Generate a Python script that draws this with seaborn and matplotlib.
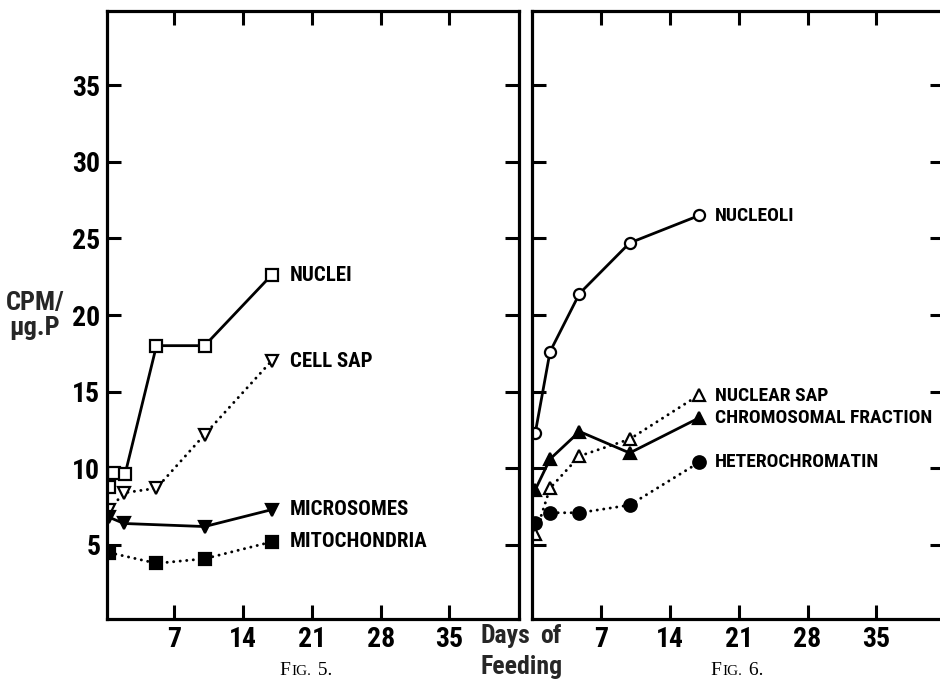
import matplotlib
matplotlib.use("Agg")
import matplotlib.pyplot as plt
from matplotlib import font_manager as fm
from matplotlib.offsetbox import TextArea, HPacker, AnnotationBbox
import seaborn as sns
import pandas as pd

# ---------------- data ----------------
tick_days = [7, 14, 21, 28, 35]
tick_cpm = [5, 10, 15, 20, 25, 30, 35]

# Fig. 5
nuclei_days = [0.4, 0.9, 2.0, 5.2, 10.1, 16.9]
nuclei = [8.8, 9.7, 9.6, 18.0, 18.0, 22.6]
cellsap_days = [0.4, 1.9, 5.2, 10.1, 16.9]
cellsap = [7.3, 8.4, 8.7, 12.2, 17.0]
microsomes_days = [0.4, 1.9, 10.1, 16.9]
microsomes = [6.8, 6.4, 6.2, 7.3]
mito_days = [0.4, 5.2, 10.1, 16.9]
mito = [4.5, 3.8, 4.1, 5.2]

# Fig. 6
nucfrac_days = [0.3, 1.8, 4.8, 9.9, 17.0]
nucleoli = [12.3, 17.6, 21.4, 24.7, 26.5]
nuclearsap = [5.7, 8.7, 10.8, 11.9, 14.8]
chromosomal = [8.6, 10.6, 12.4, 11.0, 13.3]
heterochromatin = [6.4, 7.1, 7.1, 7.6, 10.4]

left_labels = ["NUCLEI", "CELL SAP", "MICROSOMES", "MITOCHONDRIA"]
left_label_y = [22.57, 16.96, 7.33, 5.2]
right_labels = ["NUCLEOLI", "NUCLEAR SAP", "CHROMOSOMAL FRACTION", "HETEROCHROMATIN"]
right_label_y = [26.48, 14.74, 13.3, 10.43]

# ---------------- style ----------------
sns.set_theme(style="ticks")
names = {f.name for f in fm.fontManager.ttflist}
for cand in ["Liberation Sans Narrow", "Roboto Condensed", "Open Sans Condensed", "DejaVu Sans"]:
    if cand in names:
        NARROW = cand
        break
else:
    NARROW = "DejaVu Sans"
SERIF = "Liberation Serif" if "Liberation Serif" in names else "DejaVu Serif"
plt.rcParams["font.family"] = [NARROW, "DejaVu Sans"]
plt.rcParams["font.weight"] = "bold"

fig = plt.figure(figsize=(9.4, 6.83), dpi=100)
fig.patch.set_facecolor("white")
W, H = 940.0, 683.0
ax_w = 412.0 / W
ax_b = (H - 619.3) / H
ax_h = (619.3 - 10.7) / H
ax1 = fig.add_axes([107.3 / W, ax_b, ax_w, ax_h])
ax2 = fig.add_axes([532.3 / W, ax_b, ax_w, ax_h])

solid = dict(color="black", linewidth=2.0, linestyle="-")
dotted = dict(color="black", linewidth=2.1, linestyle=(0, (0.05, 2.2)),
              dash_capstyle="round")


def draw(ax, xs, ys, marker, filled, ls, ms):
    df = pd.DataFrame({"day": xs, "cpm": ys})
    sns.lineplot(data=df, x="day", y="cpm", ax=ax, estimator=None, sort=False,
                 marker=marker, markersize=ms,
                 markerfacecolor="black" if filled else "white",
                 markeredgecolor="black", markeredgewidth=1.6, **ls)


draw(ax1, nuclei_days, nuclei, "s", False, solid, 8)
draw(ax1, cellsap_days, cellsap, "v", False, dotted, 8.5)
draw(ax1, microsomes_days, microsomes, "v", True, solid, 9)
draw(ax1, mito_days, mito, "s", True, dotted, 8.5)

draw(ax2, nucfrac_days, nucleoli, "o", False, solid, 8)
draw(ax2, nucfrac_days, nuclearsap, "^", False, dotted, 8.5)
draw(ax2, nucfrac_days, chromosomal, "^", True, solid, 9)
draw(ax2, nucfrac_days, heterochromatin, "o", True, dotted, 9)

for ax, xl in ((ax1, (0.2, 42.1)), (ax2, (0.0, 41.9))):
    ax.set_xlim(*xl)
    ax.set_ylim(0.15, 39.85)
    ax.set_xticks(tick_days)
    ax.set_yticks(tick_cpm)
    ax.set_xlabel("")
    ax.set_ylabel("")
    ax.set_facecolor("white")
    for s in ax.spines.values():
        s.set_linewidth(2.3)
        s.set_color("black")
        s.set_visible(True)
    ax.tick_params(axis="both", which="major", direction="in", length=10,
                   width=2.2, color="black", top=True, right=True,
                   labelsize=20, pad=5, labelcolor="black")
    for lab in ax.get_xticklabels() + ax.get_yticklabels():
        lab.set_fontweight("bold")

ax2.tick_params(axis="y", labelleft=False)

for lab, y in zip(left_labels, left_label_y):
    ax1.text(18.75, y, lab, ha="left", va="center", fontsize=15,
             fontweight="bold", color="black")
for lab, y in zip(right_labels, right_label_y):
    ax2.text(18.55, y, lab, ha="left", va="center", fontsize=14,
             fontweight="bold", color="black")

# axis texts
fig.text(481 / W, (H - 643) / H, "Days", ha="left", va="baseline",
         fontsize=18.5, fontweight="bold")
fig.text(540 / W, (H - 643) / H, "of", ha="left", va="baseline",
         fontsize=18.5, fontweight="bold")
fig.text(481 / W, (H - 674) / H, "Feeding", ha="left", va="baseline",
         fontsize=18.5, fontweight="bold")
fig.text(35 / W, (H - 310) / H, "CPM/", ha="center", va="baseline",
         fontsize=19, fontweight="bold")
fig.text(35 / W, (H - 335) / H, "\u00b5g.P", ha="center", va="baseline",
         fontsize=19, fontweight="bold")


def fig_caption(cx, num):
    big = dict(family=SERIF, size=14, weight="normal", color="black")
    small = dict(family=SERIF, size=11, weight="normal", color="black")
    parts = [TextArea("F", textprops=big), TextArea("IG.", textprops=small),
             TextArea(" " + num + ".", textprops=big)]
    pack = HPacker(children=parts, align="baseline", pad=0, sep=1.0)
    ab = AnnotationBbox(pack, (cx / W, (H - 679) / H), xycoords="figure fraction",
                        box_alignment=(0.5, 0.0), frameon=False, pad=0)
    fig.add_artist(ab)


fig_caption(306, "5")
fig_caption(737, "6")

fig.savefig("out.png", dpi=100, facecolor="white")
